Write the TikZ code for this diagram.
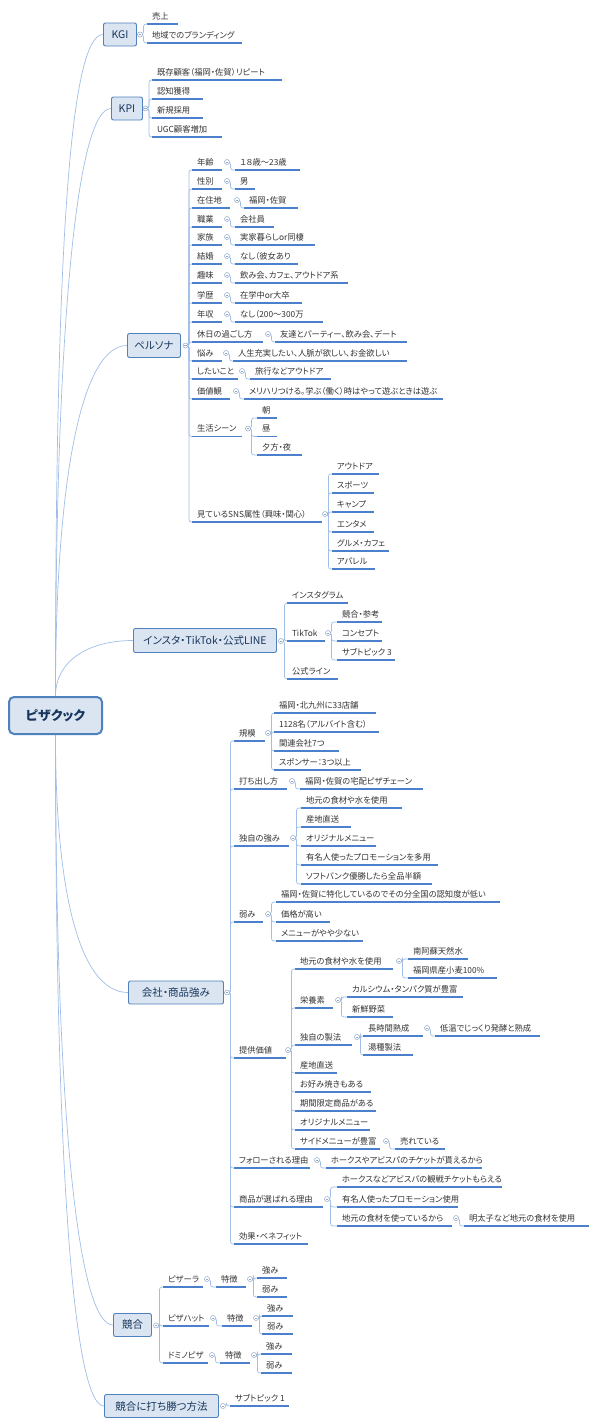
\documentclass[tikz,border=0pt]{standalone}
\usepackage{fontspec}
\setmainfont{Noto Sans CJK JP}[RawFeature=+palt]
\usepackage{tikz}
\usetikzlibrary{calc,backgrounds}
\definecolor{boxfill}{RGB}{219,229,241}
\definecolor{boxline}{RGB}{79,129,189}
\definecolor{boxtext}{RGB}{23,54,93}
\definecolor{lineblue}{RGB}{74,128,204}
\definecolor{connblue}{RGB}{160,190,230}
\definecolor{subtext}{RGB}{51,51,51}
\definecolor{foldgray}{RGB}{145,168,202}

\begin{document}
\begin{tikzpicture}[x=1pt,y=-1pt,
    rootbox/.style={draw=boxline,fill=boxfill,rounded corners=5pt,line width=2pt,text=boxtext,
        font=\fontsize{13}{15}\selectfont\bfseries,minimum width=93pt,minimum height=37pt,inner sep=0pt},
    mainbox/.style={draw=boxline,fill=boxfill,rounded corners=2pt,line width=0.9pt,text=boxtext,
        font=\fontsize{10.5}{12}\selectfont,minimum height=23pt,inner sep=0pt},
    sub/.style={anchor=south west,outer sep=0pt,inner xsep=5pt,inner ysep=5pt,text height=6pt,
        text depth=0pt,text=subtext,font=\fontsize{8.3}{10}\selectfont},
    ul/.style={append after command={(\tikzlastnode.south west) edge[uline] ($(\tikzlastnode.south west)+(#1,0)$)}},
    uline/.style={draw=lineblue,line width=1.2pt},
    conn/.style={draw=connblue,line width=0.7pt,rounded corners=2.5pt},
    rootconn/.style={draw=connblue,line width=0.7pt},
    fold/.style={circle,draw=foldgray,fill=white,line width=0.5pt,inner sep=0pt,minimum size=5pt,
        path picture={\draw[foldgray,line width=0.5pt] ([xshift=-1.4pt]path picture bounding box.center) -- ([xshift=1.4pt]path picture bounding box.center);}}
]
    \useasboundingbox (0,0) rectangle (598,1427);
    \node[rootbox] (root) at (55.5,715.5) {ピザクック};

    % KGI
    \node[mainbox,minimum width=33pt] (kgi) at (120,34.5) {KGI};
    \node[fold] (kgif) at (140,34.5) {};
    \node[sub,ul=31] (kgi1) at (147,24) {売上};
    \node[sub,ul=95] (kgi2) at (147,43) {地域でのブランディング};

    % KPI
    \node[mainbox,minimum width=31pt] (kpi) at (127,108.5) {KPI};
    \node[fold] (kpif) at (145.5,108.5) {};
    \node[sub,ul=130] (kpi1) at (152,80) {既存顧客（福岡・佐賀）リピート};
    \node[sub,ul=51] (kpi2) at (152,99) {認知獲得};
    \node[sub,ul=51] (kpi3) at (152,118) {新規採用};
    \node[sub,ul=70] (kpi4) at (152,137) {UGC顧客増加};

    % persona
    \node[mainbox,minimum width=53pt,minimum height=24pt] (persona) at (154,345.5) {ペルソナ};
    \node[fold] (personaf) at (185.5,345.5) {};
    \node[sub,ul=30] (p1) at (192,170) {年齢};
    \node[fold] (p1f) at (227,162) {};
    \node[sub,ul=65] (p1a) at (235,170) {１８歳～23歳};
    \node[sub,ul=30] (p2) at (192,189) {性別};
    \node[fold] (p2f) at (227,181) {};
    \node[sub,ul=20] (p2a) at (235,189) {男};
    \node[sub,ul=38] (p3) at (192,208) {在住地};
    \node[fold] (p3f) at (237,200) {};
    \node[sub,ul=54] (p3a) at (244,208) {福岡・佐賀};
    \node[sub,ul=30] (p4) at (192,227) {職業};
    \node[fold] (p4f) at (227,219) {};
    \node[sub,ul=39] (p4a) at (235,227) {会社員};
    \node[sub,ul=30] (p5) at (192,245) {家族};
    \node[fold] (p5f) at (227,237) {};
    \node[sub,ul=80] (p5a) at (235,245) {実家暮らしor同棲};
    \node[sub,ul=30] (p6) at (192,264) {結婚};
    \node[fold] (p6f) at (227,256) {};
    \node[sub,ul=63] (p6a) at (235,264) {なし（彼女あり};
    \node[sub,ul=30] (p7) at (192,283) {趣味};
    \node[fold] (p7f) at (227,275) {};
    \node[sub,ul=113] (p7a) at (235,283) {飲み会、カフェ、アウトドア系};
    \node[sub,ul=30] (p8) at (192,303) {学歴};
    \node[fold] (p8f) at (227,295) {};
    \node[sub,ul=67] (p8a) at (235,303) {在学中or大卒};
    \node[sub,ul=30] (p9) at (192,322) {年収};
    \node[fold] (p9f) at (227,314) {};
    \node[sub,ul=88] (p9a) at (235,322) {なし（200～300万};
    \node[sub,ul=71] (p10) at (192,342) {休日の過ごし方};
    \node[fold] (p10f) at (268,334) {};
    \node[sub,ul=132] (p10a) at (275,342) {友達とパーティー、飲み会、デート};
    \node[sub,ul=30] (p11) at (192,361) {悩み};
    \node[fold] (p11f) at (226,353) {};
    \node[sub,ul=174] (p11a) at (233,361) {人生充実したい、人脈が欲しい、お金欲しい};
    \node[sub,ul=46] (p12) at (192,379) {したいこと};
    \node[fold] (p12f) at (242,371) {};
    \node[sub,ul=81] (p12a) at (250,379) {旅行などアウトドア};
    \node[sub,ul=38] (p13) at (192,399) {価値観};
    \node[fold] (p13f) at (236,391) {};
    \node[sub,ul=199] (p13a) at (244,399) {メリハリつける。学ぶ（働く）時はやって遊ぶときは遊ぶ};
    \node[sub,ul=50] (p14) at (192,436.5) {生活シーン};
    \node[fold] (p14f) at (248,428.5) {};
    \node[sub,ul=20] (p14a) at (257,418) {朝};
    \node[sub,ul=20] (p14b) at (257,436.5) {昼};
    \node[sub,ul=45] (p14c) at (257,455) {夕方・夜};
    \node[sub,ul=130] (p15) at (192,522) {見ているSNS属性（興味・関心）};
    \node[fold] (p15f) at (325,514) {};
    \node[sub,ul=47] (s1) at (332,474) {アウトドア};
    \node[sub,ul=42] (s2) at (332,493) {スポーツ};
    \node[sub,ul=42] (s3) at (332,512) {キャンプ};
    \node[sub,ul=42] (s4) at (332,532) {エンタメ};
    \node[sub,ul=57] (s5) at (332,551) {グルメ・カフェ};
    \node[sub,ul=43] (s6) at (332,569) {アパレル};

    % SNS
    \node[mainbox,minimum width=143pt,minimum height=24pt] (insta) at (205,640.5) {インスタ・TikTok・公式LINE};
    \node[fold] (instaf) at (281,641) {};
    \node[sub,ul=61] (i1) at (287,603) {インスタグラム};
    \node[sub,ul=38] (i2) at (287,641) {TikTok};
    \node[fold] (i2f) at (328,633) {};
    \node[sub,ul=45] (t1) at (337,622) {競合・参考};
    \node[sub,ul=45] (t2) at (337,641) {コンセプト};
    \node[sub,ul=58] (t3) at (337,660) {サブトピック 3};
    \node[sub,ul=51] (i3) at (287,679) {公式ライン};

    % company
    \node[mainbox,minimum width=95pt] (company) at (176,992.5) {会社・商品強み};
    \node[fold] (companyf) at (227,992.5) {};
    \node[sub,ul=31] (c1) at (234,741) {規模};
    \node[fold] (c1f) at (268,733) {};
    \node[sub,ul=102] (c1a) at (274,713) {福岡・北九州に33店舗};
    \node[sub,ul=105] (c1b) at (274,732) {1128名（アルバイト含む）};
    \node[sub,ul=65] (c1c) at (274,751) {関連会社7つ};
    \node[sub,ul=87] (c1d) at (274,770) {スポンサー：3つ以上};
    \node[sub,ul=53] (c2) at (234,789) {打ち出し方};
    \node[fold] (c2f) at (292,781) {};
    \node[sub,ul=123] (c2a) at (300,789) {福岡・佐賀の宅配ピザチェーン};
    \node[sub,ul=55] (c3) at (234,846) {独自の強み};
    \node[fold] (c3f) at (293,838) {};
    \node[sub,ul=101] (c3a) at (301,808) {地元の食材や水を使用};
    \node[sub,ul=50] (c3b) at (301,827) {産地直送};
    \node[sub,ul=75] (c3c) at (301,846) {オリジナルメニュー};
    \node[sub,ul=137] (c3d) at (301,865) {有名人使ったプロモーションを多用};
    \node[sub,ul=131] (c3e) at (301,884) {ソフトバンク優勝したら全品半額};
    \node[sub,ul=29] (c4) at (234,922) {弱み};
    \node[fold] (c4f) at (268,914) {};
    \node[sub,ul=224] (c4a) at (276,902) {福岡・佐賀に特化しているのでその分全国の認知度が低い};
    \node[sub,ul=54] (c4b) at (276,922) {価格が高い};
    \node[sub,ul=87] (c4c) at (276,941) {メニューがやや少ない};
    \node[sub,ul=52] (c5) at (234,1058) {提供価値};
    \node[fold] (c5f) at (288,1050) {};
    \node[sub,ul=98] (v1) at (295,969) {地元の食材や水を使用};
    \node[fold] (v1f) at (399,961) {};
    \node[sub,ul=60] (v1a) at (408,959) {南阿蘇天然水};
    \node[sub,ul=89] (v1b) at (408,978) {福岡県産小麦100\%};
    \node[sub,ul=38] (v2) at (295,1008) {栄養素};
    \node[fold] (v2f) at (338,1000) {};
    \node[sub,ul=116] (v2a) at (347,997) {カルシウム・タンパク質が豊富};
    \node[sub,ul=46] (v2b) at (347,1017) {新鮮野菜};
    \node[sub,ul=57] (v3) at (295,1045) {独自の製法};
    \node[fold] (v3f) at (357,1037) {};
    \node[sub,ul=60] (v3a) at (363,1036) {長時間熟成};
    \node[fold] (v3af) at (427,1028) {};
    \node[sub,ul=105] (v3a1) at (435,1036) {低温でじっくり発酵と熟成};
    \node[sub,ul=50] (v3b) at (363,1055) {湯種製法};
    \node[sub,ul=42] (v4) at (295,1073) {産地直送};
    \node[sub,ul=76] (v5) at (295,1092) {お好み焼きもある};
    \node[sub,ul=81] (v6) at (295,1111) {期間限定商品がある};
    \node[sub,ul=75] (v7) at (295,1130) {オリジナルメニュー};
    \node[sub,ul=85] (v8) at (295,1149) {サイドメニューが豊富};
    \node[fold] (v8f) at (386,1141) {};
    \node[sub,ul=50] (v8a) at (395,1149) {売れている};
    \node[sub,ul=76] (c6) at (234,1168) {フォローされる理由};
    \node[fold] (c6f) at (317,1160) {};
    \node[sub,ul=156] (c6a) at (326,1168) {ホークスやアビスパのチケットが貰えるから};
    \node[sub,ul=89] (c7) at (234,1207) {商品が選ばれる理由};
    \node[fold] (c7f) at (327,1199) {};
    \node[sub,ul=165] (c7a) at (337,1187) {ホークスなどアビスパの観戦チケットもらえる};
    \node[sub,ul=121] (c7b) at (337,1207) {有名人使ったプロモーション使用};
    \node[sub,ul=115] (c7c) at (337,1226) {地元の食材を使っているから};
    \node[fold] (c7cf) at (456,1218) {};
    \node[sub,ul=125] (c7c1) at (464,1226) {明太子など地元の食材を使用};
    \node[sub,ul=74] (c8) at (234,1244) {効果・ベネフィット};

    % rivals
    \node[mainbox,minimum width=38pt] (kyogo) at (132.5,1325) {競合};
    \node[fold] (kyogof) at (156,1325.5) {};
    \node[sub,ul=40] (k1) at (163,1287) {ピザーラ};
    \node[fold] (k1f) at (207,1279) {};
    \node[sub,ul=30] (k1a) at (216,1287) {特徴};
    \node[fold] (k1af) at (250,1279) {};
    \node[sub,ul=30] (k1a1) at (257,1278) {強み};
    \node[sub,ul=30] (k1a2) at (257,1297) {弱み};
    \node[sub,ul=46] (k2) at (163,1326) {ピザハット};
    \node[fold] (k2f) at (213,1318) {};
    \node[sub,ul=30] (k2a) at (222,1326) {特徴};
    \node[fold] (k2af) at (256,1318) {};
    \node[sub,ul=31] (k2a1) at (262,1316) {強み};
    \node[sub,ul=31] (k2a2) at (262,1334) {弱み};
    \node[sub,ul=45] (k3) at (163,1363) {ドミノピザ};
    \node[fold] (k3f) at (212,1355) {};
    \node[sub,ul=30] (k3a) at (220,1363) {特徴};
    \node[fold] (k3af) at (254,1355) {};
    \node[sub,ul=31] (k3a1) at (261,1354) {強み};
    \node[sub,ul=31] (k3a2) at (261,1373) {弱み};

    \node[mainbox,minimum width=114pt] (katsu) at (161.5,1406) {競合に打ち勝つ方法};
    \node[fold] (katsuf) at (223,1406) {};
    \node[sub,ul=59] (katsu1) at (230,1406) {サブトピック 1};

    \begin{scope}[on background layer]
        \draw[rootconn] (root.north) .. controls +(0,-420) and +(-35,0) .. (kgi.west);
        \draw[rootconn] (root.north) .. controls +(0,-360) and +(-35,0) .. (kpi.west);
        \draw[rootconn] (root.north) .. controls +(0,-220) and +(-45,0) .. (persona.west);
        \draw[rootconn] (root.north) .. controls +(0,-35) and +(-45,0) .. (insta.west);
        \draw[rootconn] (root.south) .. controls +(0,170) and +(-45,0) .. (company.west);
        \draw[rootconn] (root.south) .. controls +(0,380) and +(-35,0) .. (kyogo.west);
        \draw[rootconn] (root.south) .. controls +(0,440) and +(-30,0) .. (katsu.west);
        \foreach \f/\c in {kgif/kgi1,kgif/kgi2,kpif/kpi1,kpif/kpi2,kpif/kpi3,kpif/kpi4,
            personaf/p1,personaf/p2,personaf/p3,personaf/p4,personaf/p5,personaf/p6,personaf/p7,personaf/p8,
            personaf/p9,personaf/p10,personaf/p11,personaf/p12,personaf/p13,personaf/p14,personaf/p15,
            p1f/p1a,p2f/p2a,p3f/p3a,p4f/p4a,p5f/p5a,p6f/p6a,p7f/p7a,p8f/p8a,p9f/p9a,p10f/p10a,
            p11f/p11a,p12f/p12a,p13f/p13a,p14f/p14a,p14f/p14b,p14f/p14c,
            p15f/s1,p15f/s2,p15f/s3,p15f/s4,p15f/s5,p15f/s6,
            instaf/i1,instaf/i2,instaf/i3,i2f/t1,i2f/t2,i2f/t3,
            companyf/c1,companyf/c2,companyf/c3,companyf/c4,companyf/c5,companyf/c6,companyf/c7,companyf/c8,
            c1f/c1a,c1f/c1b,c1f/c1c,c1f/c1d,c2f/c2a,c3f/c3a,c3f/c3b,c3f/c3c,c3f/c3d,c3f/c3e,
            c4f/c4a,c4f/c4b,c4f/c4c,c5f/v1,c5f/v2,c5f/v3,c5f/v4,c5f/v5,c5f/v6,c5f/v7,c5f/v8,
            v1f/v1a,v1f/v1b,v2f/v2a,v2f/v2b,v3f/v3a,v3f/v3b,v3af/v3a1,v8f/v8a,
            c6f/c6a,c7f/c7a,c7f/c7b,c7f/c7c,c7cf/c7c1,
            kyogof/k1,kyogof/k2,kyogof/k3,k1f/k1a,k1af/k1a1,k1af/k1a2,k2f/k2a,k2af/k2a1,k2af/k2a2,
            k3f/k3a,k3af/k3a1,k3af/k3a2,katsuf/katsu1}
            \draw[conn] (\f.center) -- ++(3.5,0) |- (\c.south west);
    \end{scope}
\end{tikzpicture}
\end{document}
